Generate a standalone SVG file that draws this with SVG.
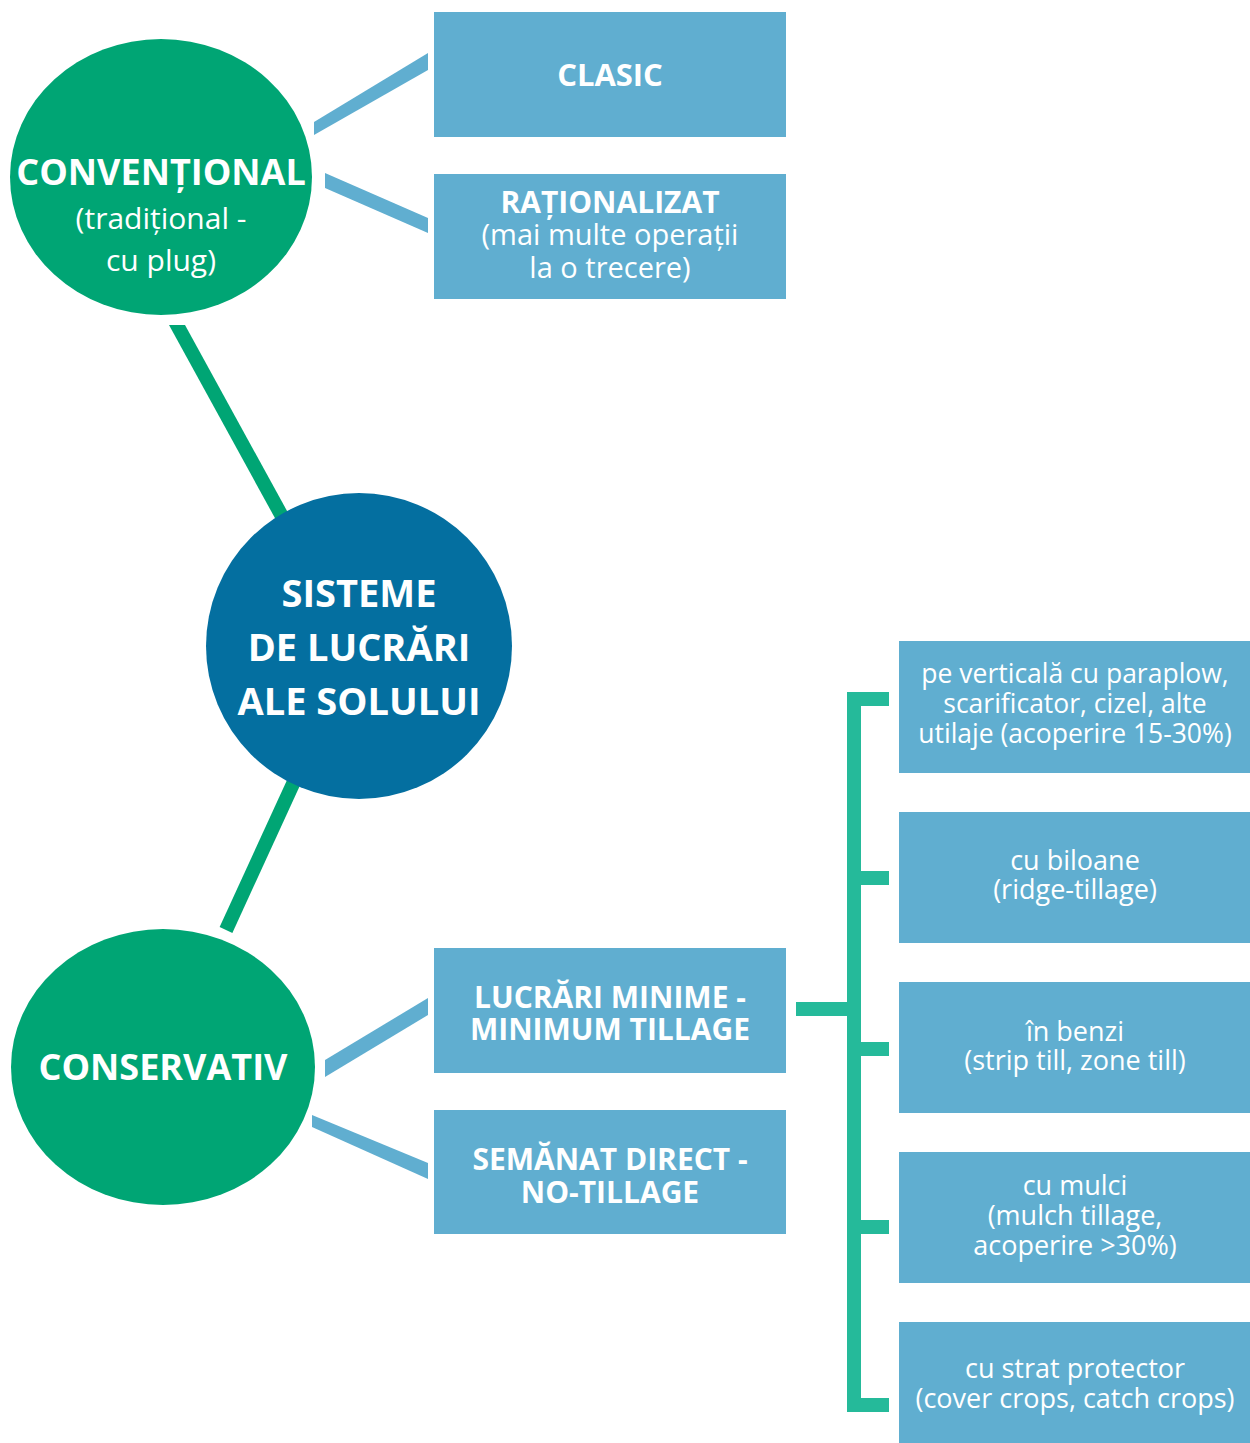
<svg xmlns="http://www.w3.org/2000/svg" width="1250" height="1443" viewBox="0 0 1250 1443">
<style>
.box{fill:#60AED0}
.green{fill:#00A574}
.blue{fill:#046FA0}
.band{fill:#60AED0}
.gl{stroke:#00A574;stroke-width:14;fill:none}
.br{fill:#25BA9A}
text{font-family:"Open Sans","Noto Sans","DejaVu Sans",sans-serif;fill:#fff;text-anchor:middle}
.b{font-weight:700}
.r{font-weight:400}
</style>
<rect width="1250" height="1443" fill="#fff"/>
<g id="connectors">
<polygon class="green" points="169,325 185,325 292,520 276,520"/>
<line class="gl" x1="303" y1="762" x2="226" y2="930"/>
<polygon class="band" points="314,122 428,53 428,70 314,135"/>
<polygon class="band" points="325,173 428,218 428,233 325,188"/>
<polygon class="band" points="325,1060 428,998 428,1015 325,1077"/>
<polygon class="band" points="312,1115 428,1163 428,1179 312,1127"/>
<rect class="br" x="847" y="692" width="14" height="720"/>
<rect class="br" x="847" y="692" width="42" height="14"/>
<rect class="br" x="847" y="871" width="42" height="14"/>
<rect class="br" x="847" y="1042" width="42" height="14"/>
<rect class="br" x="847" y="1220" width="42" height="14"/>
<rect class="br" x="847" y="1398" width="42" height="14"/>
<rect class="br" x="796" y="1002" width="51" height="14"/>
</g>
<g id="conventional">
<ellipse class="green" cx="161" cy="177" rx="151" ry="138"/>
<text class="b" x="161" y="185" font-size="36">CONVENȚIONAL</text>
<text class="r" x="161" y="229" font-size="30">(tradițional -</text>
<text class="r" x="161" y="271" font-size="30">cu plug)</text>
</g>
<g id="sisteme">
<circle class="blue" cx="359" cy="646" r="153"/>
<text class="b" x="359" y="607" font-size="38">SISTEME</text>
<text class="b" x="359" y="661" font-size="38">DE LUCRĂRI</text>
<text class="b" x="359" y="715" font-size="38">ALE SOLULUI</text>
</g>
<g id="conservativ">
<ellipse class="green" cx="163" cy="1067" rx="152" ry="138"/>
<text class="b" x="163" y="1080" font-size="36">CONSERVATIV</text>
</g>
<g id="clasic">
<rect class="box" x="434" y="12" width="352" height="125"/>
<text class="b" x="610" y="86" font-size="31">CLASIC</text>
</g>
<g id="rationalizat">
<rect class="box" x="434" y="174" width="352" height="125"/>
<text class="b" x="610" y="213" font-size="30">RAȚIONALIZAT</text>
<text class="r" x="610" y="245" font-size="29">(mai multe operații</text>
<text class="r" x="610" y="278" font-size="29">la o trecere)</text>
</g>
<g id="lucrari-minime">
<rect class="box" x="434" y="948" width="352" height="125"/>
<text class="b" x="610" y="1008" font-size="30">LUCRĂRI MINIME -</text>
<text class="b" x="610" y="1040" font-size="30">MINIMUM TILLAGE</text>
</g>
<g id="semanat-direct">
<rect class="box" x="434" y="1110" width="352" height="124"/>
<text class="b" x="610" y="1170" font-size="30">SEMĂNAT DIRECT -</text>
<text class="b" x="610" y="1203" font-size="30">NO-TILLAGE</text>
</g>
<g id="verticala">
<rect class="box" x="899" y="641" width="351" height="132"/>
<text class="r" x="1075" y="683" font-size="26.5">pe verticală cu paraplow,</text>
<text class="r" x="1075" y="713" font-size="26.5">scarificator, cizel, alte</text>
<text class="r" x="1075" y="743" font-size="26.5">utilaje (acoperire 15-30%)</text>
</g>
<g id="biloane">
<rect class="box" x="899" y="812" width="351" height="131"/>
<text class="r" x="1075" y="870" font-size="27">cu biloane</text>
<text class="r" x="1075" y="899" font-size="27">(ridge-tillage)</text>
</g>
<g id="benzi">
<rect class="box" x="899" y="982" width="351" height="131"/>
<text class="r" x="1075" y="1041" font-size="27">în benzi</text>
<text class="r" x="1075" y="1070" font-size="27">(strip till, zone till)</text>
</g>
<g id="mulci">
<rect class="box" x="899" y="1152" width="351" height="131"/>
<text class="r" x="1075" y="1195" font-size="27">cu mulci</text>
<text class="r" x="1075" y="1225" font-size="27">(mulch tillage,</text>
<text class="r" x="1075" y="1255" font-size="27">acoperire &gt;30%)</text>
</g>
<g id="strat-protector">
<rect class="box" x="899" y="1322" width="351" height="121"/>
<text class="r" x="1075" y="1378" font-size="27">cu strat protector</text>
<text class="r" x="1075" y="1408" font-size="27">(cover crops, catch crops)</text>
</g>
</svg>
